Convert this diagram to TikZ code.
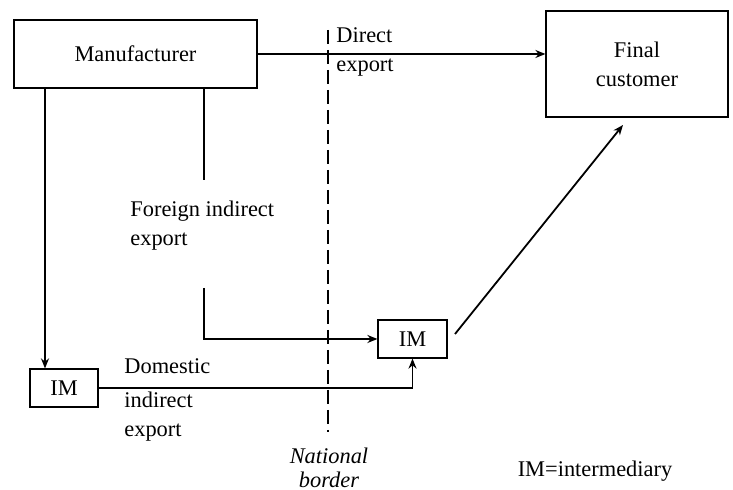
\documentclass[tikz,border=0pt]{standalone}
\usepackage{fontspec}
\setmainfont{Liberation Serif}
\usetikzlibrary{arrows.meta}

\begin{document}
\begin{tikzpicture}[x=0.5pt,y=-0.5pt,
  font=\fontsize{11.2}{14.5}\selectfont,
  box/.style={draw,line width=0.6pt,inner sep=0pt},
  flow/.style={line width=0.9pt,-{Stealth[length=5pt,width=4pt]}},
  lbl/.style={inner sep=0pt,align=left}]
\useasboundingbox (0,0) rectangle (733,490);
% boxes
\node[box,minimum width=121.5pt,minimum height=34pt] (mfr) at (135.5,54) {Manufacturer};
\node[box,minimum width=91pt,minimum height=53pt,align=center] (fc) at (637,64) {Final\\customer};
\node[box,minimum width=34pt,minimum height=19pt] (imL) at (64,388) {IM};
\node[box,minimum width=34.5pt,minimum height=19pt] (imR) at (412.5,339) {IM};

% national border
\coordinate (bt) at (328,30);
\coordinate (bb) at (328,432);
\draw[line width=0.9pt,dash pattern=on 7pt off 3pt] (bt) -- (bb);
\node[lbl,align=center,font=\fontsize{11.2}{12}\itshape] (nb) at (329,468) {National\\border};

% flows
\coordinate (l) at (45,0);
\coordinate (f1) at (204,180);
\coordinate (f2) at (204,288);
\coordinate (d1) at (455,334);
\coordinate (d2) at (623,125);
\draw[flow] (mfr.east) -- (mfr.east -| fc.west);
\draw[flow] (mfr.south -| l) -- (imL.north -| l);
\draw[line width=0.9pt] (mfr.south -| f1) -- (f1);
\draw[flow] (f2) |- (imR.west);
\draw[flow] (imL.east) -| (imR.south);
\draw[flow] (d1) -- (d2);

% labels
\node[lbl,anchor=west] (de) at (336,52) {Direct\\export};
\node[lbl,anchor=west] (fe) at (130,226) {Foreign indirect\\export};
\node[lbl,anchor=west] (dm) at (124,366) {Domestic};
\node[lbl,anchor=west] (ie) at (124,417) {indirect\\export};
\node[lbl] (key) at (595,471) {IM=intermediary};
\end{tikzpicture}
\end{document}
